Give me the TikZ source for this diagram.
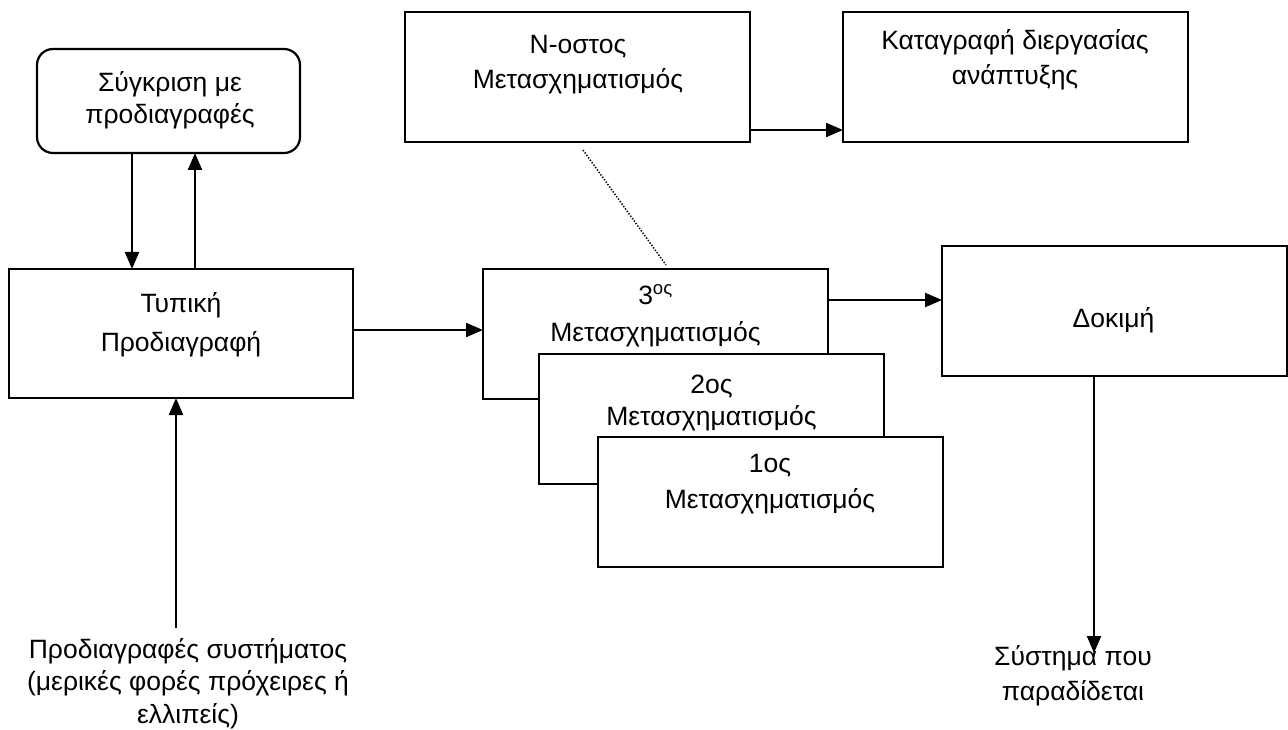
\documentclass[tikz,border=0pt]{standalone}
\usepackage{fontspec}
\setmainfont{Liberation Sans}
\usetikzlibrary{arrows.meta}

\begin{document}
\begin{tikzpicture}[x=1pt,y=-1pt,
  box/.style={draw, line width=2.2pt, fill=white, inner sep=0pt, outer sep=0pt,
              anchor=north west, minimum width=345pt, minimum height=130pt},
  rbox/.style={box, rounded corners=16pt},
  txt/.style={align=center, anchor=base, inner sep=0pt,
              font=\fontsize{26.5}{35}\selectfont},
  arr/.style={line width=2.2pt, -{Triangle[length=17pt,width=14pt]}},
  dotline/.style={line width=1.5pt, dash pattern=on 1.4pt off 1.6pt}]

\useasboundingbox (0,0) rectangle (1288,730);

% boxes
\node[rbox, minimum width=263pt, minimum height=104pt] (cmp) at (37,49) {};
\node[box, minimum width=344pt, minimum height=129pt] (typ) at (9,269) {};
\node[box] (nth) at (405,12) {};
\node[box] (kat) at (843,12) {};
\node[box] (dok) at (942,246) {};
\node[box] (t3) at (483,269) {};
\node[box] (t2) at (539,354) {};
\node[box] (t1) at (598,437) {};

% texts (each placed by the baseline of its last line)
\node[txt, font=\fontsize{26.5}{32}\selectfont] (cmpT) at (170,124) {Σύγκριση με\\προδιαγραφές};
\node[txt, font=\fontsize{26.5}{39}\selectfont] (typT) at (181,351) {Τυπική\\Προδιαγραφή};
\node[txt] (nthT) at (578,89) {N-οστος\\Μετασχηματισμός};
\node[txt] (katT) at (1015,85) {Καταγραφή διεργασίας\\ανάπτυξης};
\node[txt] (dokT) at (1113.5,327) {Δοκιμή};
\node[txt, font=\fontsize{26.5}{37}\selectfont] (t3T) at (655.5,341) {3\textsuperscript{ος}\\Μετασχηματισμός};
\node[txt, font=\fontsize{26.5}{32}\selectfont] (t2T) at (711.5,425) {2ος\\Μετασχηματισμός};
\node[txt, font=\fontsize{26.5}{36}\selectfont] (t1T) at (770,508) {1ος\\Μετασχηματισμός};
\node[txt, font=\fontsize{26.5}{32.5}\selectfont] (specT) at (188,723) {Προδιαγραφές συστήματος\\(μερικές φορές πρόχειρες ή\\ελλιπείς)};
\node[txt] (delT) at (1073,700) {Σύστημα που\\παραδίδεται};

% reference points for the connectors
\coordinate (xDown) at (132,0);
\coordinate (xUp) at (195,0);
\coordinate (ySpec) at (0,330);
\coordinate (yTest) at (0,300);
\coordinate (yLog) at (0,130);
\coordinate (specTop) at (176,628);
\coordinate (specIn) at (176,0);
\coordinate (xOut) at (1094,0);
\coordinate (outEnd) at (1094,653);
\coordinate (dotA) at (583,150);
\coordinate (dotB) at (666,265);

% connectors
\draw[arr] (cmp.south -| xDown) -- (typ.north -| xDown);
\draw[arr] (typ.north -| xUp) -- (cmp.south -| xUp);
\draw[arr] (specTop) -- (typ.south -| specIn);
\draw[arr] (typ.east |- ySpec) -- (t3.west |- ySpec);
\draw[arr] (t3.east |- yTest) -- (dok.west |- yTest);
\draw[arr] (nth.east |- yLog) -- (kat.west |- yLog);
\draw[arr] (dok.south -| xOut) -- (outEnd);
\draw[dotline] (dotA) -- (dotB);

\end{tikzpicture}
\end{document}
